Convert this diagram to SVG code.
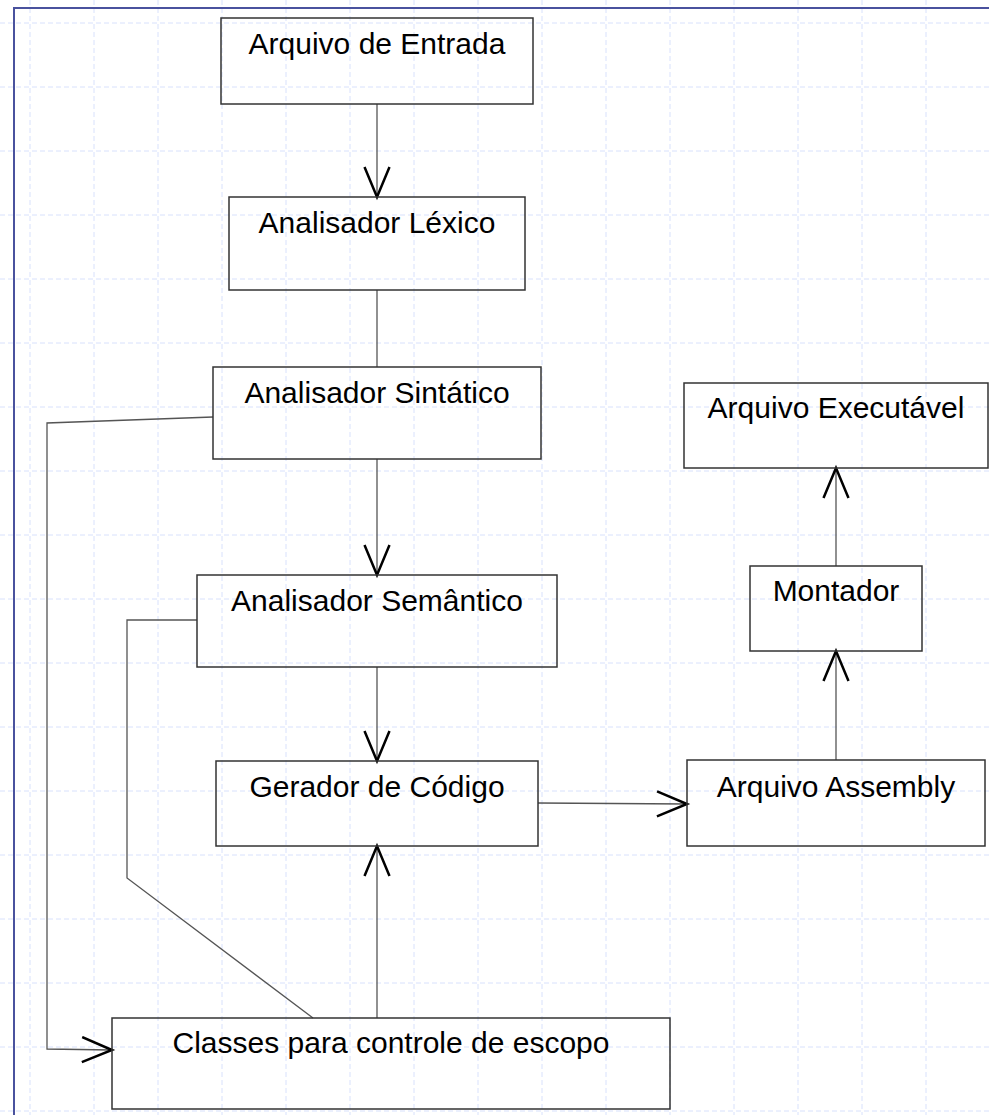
<svg xmlns="http://www.w3.org/2000/svg" width="989" height="1115" viewBox="0 0 989 1115">
<defs>
<style>
.grid line{stroke:#d8e1fc;stroke-width:1;stroke-dasharray:5,3}
.box{fill:none;stroke:#333;stroke-width:1.5}
.lbl{font-family:"Liberation Sans",Arial,sans-serif;font-size:30px;fill:#000;text-anchor:middle}
.conn path{fill:none;stroke:#555;stroke-width:1.3}
</style>
<marker id="v" markerUnits="userSpaceOnUse" markerWidth="40" markerHeight="32" refX="31" refY="14" orient="auto">
<path d="M1,1.5 L31,14 L1,26.5" fill="none" stroke="#000" stroke-width="2.5"/>
</marker>
</defs>
<rect width="989" height="1115" fill="#fff"/>
<g class="grid">
<line x1="30" y1="0" x2="30" y2="1115"/><line x1="94" y1="0" x2="94" y2="1115"/><line x1="158" y1="0" x2="158" y2="1115"/><line x1="222" y1="0" x2="222" y2="1115"/><line x1="286" y1="0" x2="286" y2="1115"/><line x1="350" y1="0" x2="350" y2="1115"/><line x1="414" y1="0" x2="414" y2="1115"/><line x1="478" y1="0" x2="478" y2="1115"/><line x1="542" y1="0" x2="542" y2="1115"/><line x1="606" y1="0" x2="606" y2="1115"/><line x1="670" y1="0" x2="670" y2="1115"/><line x1="734" y1="0" x2="734" y2="1115"/><line x1="798" y1="0" x2="798" y2="1115"/><line x1="862" y1="0" x2="862" y2="1115"/><line x1="926" y1="0" x2="926" y2="1115"/>
<line x1="0" y1="23" x2="989" y2="23"/><line x1="0" y1="87" x2="989" y2="87"/><line x1="0" y1="151" x2="989" y2="151"/><line x1="0" y1="215" x2="989" y2="215"/><line x1="0" y1="279" x2="989" y2="279"/><line x1="0" y1="343" x2="989" y2="343"/><line x1="0" y1="407" x2="989" y2="407"/><line x1="0" y1="471" x2="989" y2="471"/><line x1="0" y1="535" x2="989" y2="535"/><line x1="0" y1="599" x2="989" y2="599"/><line x1="0" y1="663" x2="989" y2="663"/><line x1="0" y1="727" x2="989" y2="727"/><line x1="0" y1="791" x2="989" y2="791"/><line x1="0" y1="855" x2="989" y2="855"/><line x1="0" y1="919" x2="989" y2="919"/><line x1="0" y1="983" x2="989" y2="983"/><line x1="0" y1="1047" x2="989" y2="1047"/><line x1="0" y1="1111" x2="989" y2="1111"/>
</g>
<rect x="14" y="8" width="1000" height="1200" fill="none" stroke="#4a529e" stroke-width="2"/>
<g class="conn" id="connectors">
<path d="M377,104 V197" marker-end="url(#v)"/>
<path d="M377,290 V367"/>
<path d="M377,459 V575" marker-end="url(#v)"/>
<path d="M377,667 V761" marker-end="url(#v)"/>
<path d="M377,1018 V846" marker-end="url(#v)"/>
<path d="M213,417 L47,423 L47,1049 L112,1050" marker-end="url(#v)"/>
<path d="M197,620 H127 V878 L313,1018"/>
<path d="M538,803 L687,804" marker-end="url(#v)"/>
<path d="M836,760 V651" marker-end="url(#v)"/>
<path d="M836,566 V468" marker-end="url(#v)"/>
</g>
<g id="entrada"><rect class="box" x="221" y="18" width="312" height="86"/><text class="lbl" x="377" y="54">Arquivo de Entrada</text></g>
<g id="lexico"><rect class="box" x="229" y="197" width="296" height="93"/><text class="lbl" x="377" y="233">Analisador Léxico</text></g>
<g id="sintatico"><rect class="box" x="213" y="367" width="328" height="92"/><text class="lbl" x="377" y="403">Analisador Sintático</text></g>
<g id="semantico"><rect class="box" x="197" y="575" width="360" height="92"/><text class="lbl" x="377" y="611">Analisador Semântico</text></g>
<g id="gerador"><rect class="box" x="216" y="761" width="322" height="85"/><text class="lbl" x="377" y="797">Gerador de Código</text></g>
<g id="classes"><rect class="box" x="112" y="1018" width="558" height="91"/><text class="lbl" x="391" y="1053">Classes para controle de escopo</text></g>
<g id="assembly"><rect class="box" x="687" y="760" width="298" height="86"/><text class="lbl" x="836" y="797">Arquivo Assembly</text></g>
<g id="montador"><rect class="box" x="750" y="566" width="172" height="85"/><text class="lbl" x="836" y="601">Montador</text></g>
<g id="executavel"><rect class="box" x="684" y="383" width="304" height="85"/><text class="lbl" x="836" y="418">Arquivo Executável</text></g>
</svg>
